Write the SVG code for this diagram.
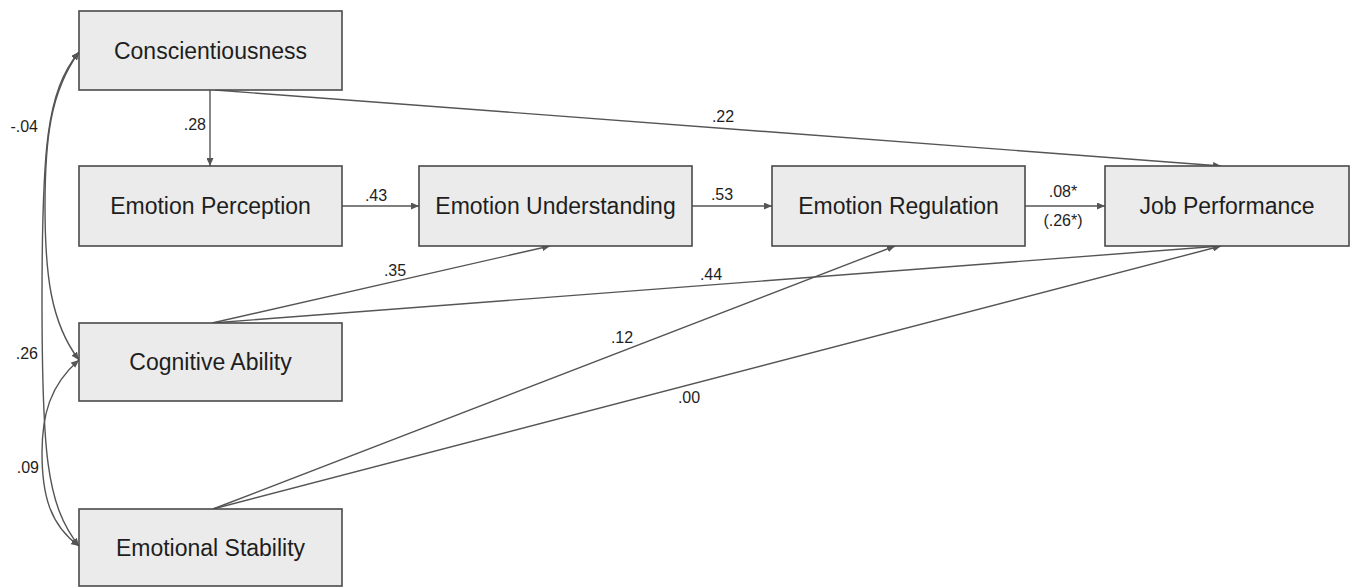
<svg xmlns="http://www.w3.org/2000/svg" width="1353" height="587" viewBox="0 0 1353 587">
<style>
.box{fill:#ebebeb;stroke:#4a4a4a;stroke-width:1.6}
.nt{font-family:"Liberation Sans",Arial,sans-serif;font-size:23px;fill:#1e1e1e;text-anchor:middle}
.el{font-family:"Liberation Sans",Arial,sans-serif;font-size:16px;fill:#1e1e1e}
.ln{fill:none;stroke:#555;stroke-width:1.4}
</style>
<defs>
<marker id="ah" markerUnits="userSpaceOnUse" markerWidth="9" markerHeight="7" refX="8" refY="3.5" orient="auto-start-reverse">
<path d="M0,0 L8,3.5 L0,7 z" fill="#555"/>
</marker>
</defs>
<rect width="1353" height="587" fill="#fff"/>
<g id="connectors">
<line class="ln" x1="210" y1="90" x2="210" y2="166" marker-end="url(#ah)"/>
<line class="ln" x1="215" y1="90" x2="1221" y2="166" marker-end="url(#ah)"/>
<line class="ln" x1="342" y1="206" x2="419" y2="206" marker-end="url(#ah)"/>
<line class="ln" x1="692" y1="206" x2="772" y2="206" marker-end="url(#ah)"/>
<line class="ln" x1="1025" y1="206" x2="1105" y2="206" marker-end="url(#ah)"/>
<line class="ln" x1="212" y1="323" x2="550" y2="246" marker-end="url(#ah)"/>
<line class="ln" x1="212" y1="323" x2="1221" y2="246" marker-end="url(#ah)"/>
<line class="ln" x1="213" y1="509" x2="895" y2="246" marker-end="url(#ah)"/>
<line class="ln" x1="213" y1="509" x2="1221" y2="246" marker-end="url(#ah)"/>
<path class="ln" d="M79,52 C46,92 42,150 42,300 C42,450 46,505 79,546" marker-start="url(#ah)" marker-end="url(#ah)"/>
<path class="ln" d="M79,52 C50,92 45,140 45,206 C45,272 50,322 79,360" marker-start="url(#ah)" marker-end="url(#ah)"/>
<path class="ln" d="M79,360 C50,385 42,415 42,453 C42,495 50,525 79,546" marker-start="url(#ah)" marker-end="url(#ah)"/>
<text class="el" x="206" y="130" text-anchor="end">.28</text>
<text class="el" x="723" y="122" text-anchor="middle">.22</text>
<text class="el" x="376" y="201" text-anchor="middle">.43</text>
<text class="el" x="722" y="200" text-anchor="middle">.53</text>
<text class="el" x="1063" y="197" text-anchor="middle">.08*</text>
<text class="el" x="1063" y="226" text-anchor="middle">(.26*)</text>
<text class="el" x="395" y="276" text-anchor="middle">.35</text>
<text class="el" x="711" y="280" text-anchor="middle">.44</text>
<text class="el" x="622" y="343" text-anchor="middle">.12</text>
<text class="el" x="689" y="403" text-anchor="middle">.00</text>
<text class="el" x="38" y="132" text-anchor="end">-.04</text>
<text class="el" x="38" y="359" text-anchor="end">.26</text>
<text class="el" x="39" y="473" text-anchor="end">.09</text>
</g>
<g id="conscientiousness"><rect class="box" x="79" y="11" width="263" height="79"/><text class="nt" x="210.5" y="59">Conscientiousness</text></g>
<g id="emotion-perception"><rect class="box" x="79" y="166" width="263" height="80"/><text class="nt" x="210.5" y="214">Emotion Perception</text></g>
<g id="emotion-understanding"><rect class="box" x="419" y="166" width="273" height="80"/><text class="nt" x="555.5" y="214">Emotion Understanding</text></g>
<g id="emotion-regulation"><rect class="box" x="772" y="166" width="253" height="80"/><text class="nt" x="898.5" y="214">Emotion Regulation</text></g>
<g id="job-performance"><rect class="box" x="1105" y="166" width="244" height="80"/><text class="nt" x="1227" y="214">Job Performance</text></g>
<g id="cognitive-ability"><rect class="box" x="79" y="323" width="263" height="78"/><text class="nt" x="210.5" y="370">Cognitive Ability</text></g>
<g id="emotional-stability"><rect class="box" x="79" y="509" width="263" height="77"/><text class="nt" x="210.5" y="556">Emotional Stability</text></g>
</svg>
